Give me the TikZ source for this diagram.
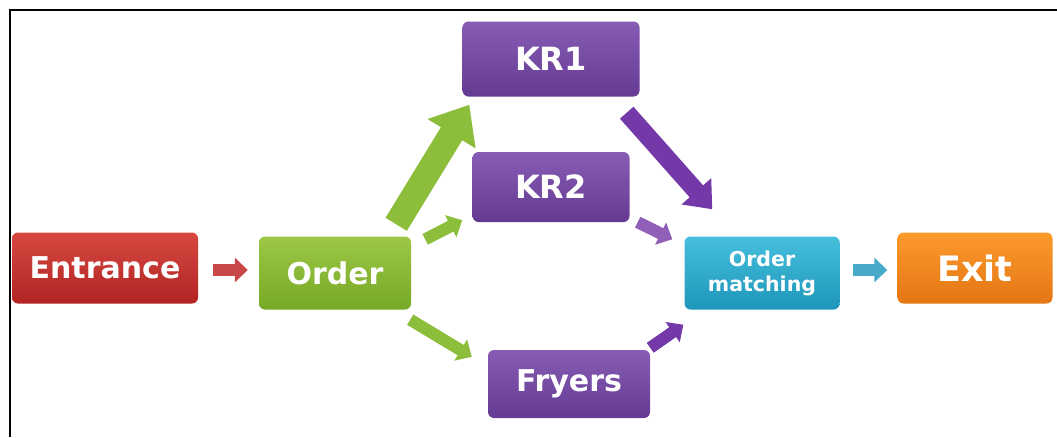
\documentclass[tikz,border=0pt]{standalone}
\usepackage{fontspec}
\setmainfont{DejaVu Sans}
\usepackage{tikz}
\usepackage{xcolor}
\usetikzlibrary{arrows.meta, positioning, calc}
\definecolor{cRedT}{RGB}{214,72,64}
\definecolor{cRedB}{RGB}{178,36,36}
\definecolor{cGreenT}{RGB}{156,200,70}
\definecolor{cGreenB}{RGB}{118,168,38}
\definecolor{cPurpT}{RGB}{136,92,180}
\definecolor{cPurpB}{RGB}{100,58,146}
\definecolor{cCyanT}{RGB}{70,190,220}
\definecolor{cCyanB}{RGB}{30,150,186}
\definecolor{cOrangeT}{RGB}{252,154,44}
\definecolor{cOrangeB}{RGB}{228,118,20}
\definecolor{cArRed}{RGB}{200,72,72}
\definecolor{cArGreen}{RGB}{140,190,60}
\definecolor{cArPurp}{RGB}{116,56,168}
\definecolor{cArCyan}{RGB}{70,170,200}
\tikzset{
	stage/.style  ={rectangle, rounded corners=6pt, draw=none, text=white, align=center, font=\bfseries\fontsize{30}{34}\selectfont},
	entbox/.style ={stage, top color=cRedT, bottom color=cRedB},
	ordbox/.style ={stage, top color=cGreenT, bottom color=cGreenB},
	krbox/.style  ={stage, top color=cPurpT, bottom color=cPurpB},
	matchbox/.style={stage, top color=cCyanT, bottom color=cCyanB, font=\bfseries\fontsize{20.5}{25}\selectfont},
	exitbox/.style={stage, top color=cOrangeT, bottom color=cOrangeB, font=\bfseries\fontsize{35}{38}\selectfont},
	% block arrows
	thinarr/.style={line width=12pt, -{Triangle[length=13pt, width=24pt]}},
	midarr/.style ={line width=18pt, -{Triangle[length=24pt, width=38pt]}},
	bigarr/.style ={line width=25pt, -{Triangle[length=34pt, width=54pt]}},
}
\begin{document}
\begin{tikzpicture}[x=1pt, y=-1pt]
	\useasboundingbox (0,0) rectangle (1057,437);
	\fill[white] (0,0) rectangle (1057,437);
	\draw[line width=2pt] (1057,10) -- (10,10) -- (10,437);

	\node[entbox, minimum width=186pt, minimum height=71pt] (entrance) at (105,268) {Entrance};
	\node[ordbox, minimum width=152pt, minimum height=73pt] (order) at (335,273) {Order};
	\node[krbox, minimum width=177pt, minimum height=75pt, font=\bfseries\fontsize{32}{36}\selectfont] (kr1) at (551,59) {KR1};
	\node[krbox, minimum width=157pt, minimum height=70pt, font=\bfseries\fontsize{32}{36}\selectfont] (kr2) at (551,187) {KR2};
	\node[krbox, minimum width=162pt, minimum height=68pt] (fryers) at (569,384) {Fryers};
	\node[matchbox, minimum width=155pt, minimum height=73pt] (match) at (762,273) {Order\\matching};
	\node[exitbox, minimum width=155pt, minimum height=71pt] (exit) at (975,268) {Exit};

	\draw[thinarr, draw=cArRed] ($(entrance.east)+(15,2)$) -- ($(order.west)+(-11,-3)$);
	\draw[bigarr, draw=cArGreen] ($(order.north east)+(-15,-12)$) -- ($(kr1.south west)+(7,8)$);
	\draw[thinarr, draw=cArGreen] ($(order.north east)+(14,3)$) -- ($(kr2.south west)+(-10,-2)$);
	\draw[thinarr, draw=cArGreen] ($(order.south east)+(-1,10)$) -- ($(fryers.north west)+(-16,7)$);
	\draw[midarr, draw=cArPurp] ($(kr1.south east)+(-13,16)$) -- ($(match.north west)+(28,-27)$);
	\draw[thinarr, draw=cArPurp!80!white] ($(kr2.south east)+(8,0)$) -- ($(match.north west)+(-12,3)$);
	\draw[thinarr, draw=cArPurp] ($(fryers.north east)+(0,-2)$) -- ($(match.south west)+(-1,15)$);
	\draw[thinarr, draw=cArCyan] ($(match.east)+(13,-3)$) -- ($(exit.west)+(-10,2)$);
\end{tikzpicture}
\end{document}
